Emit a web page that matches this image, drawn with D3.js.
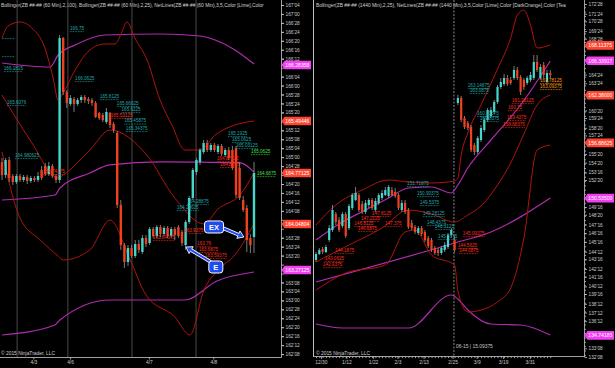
<!DOCTYPE html>
<html>
<head>
<meta charset="utf-8">
<script src="https://cdnjs.cloudflare.com/ajax/libs/d3/7.8.5/d3.min.js"></script>
<style>
  body { margin: 0; background: #000; }
  svg { display: block; font-family: "Liberation Sans", Arial, sans-serif; }
</style>
</head>
<body>
<svg id="chart" width="615" height="368"></svg>
<script>
"use strict";

// ---------- 60 min panel (left) ----------
// [open, high, low, close]
const leftBars = [
  [164.933,164.988,164.681,164.751],[164.751,164.988,164.709,164.960],[164.960,165.002,164.653,164.709],
  [164.737,164.765,164.611,164.653],[164.653,164.765,164.625,164.737],[164.737,164.765,164.653,164.681],
  [164.681,164.751,164.653,164.723],[164.723,164.751,164.625,164.667],[164.667,164.737,164.639,164.709],
  [164.709,164.737,164.653,164.681],[164.681,164.793,164.653,164.737],[164.821,164.877,164.681,164.709],
  [164.877,164.919,164.737,164.765],[164.765,164.933,164.737,164.877],[164.877,164.905,164.709,164.737],
  [164.737,164.765,164.639,164.681],[164.681,166.706,164.639,166.664],[166.664,166.678,165.868,165.910],
  [165.910,165.938,165.687,165.757],[165.743,165.868,165.715,165.826],[165.812,165.840,165.631,165.743],
  [165.743,165.826,165.715,165.798],[165.798,165.868,165.757,165.840],[165.840,165.868,165.757,165.798],
  [165.812,165.840,165.743,165.784],[165.798,165.826,165.715,165.757],[165.757,165.784,165.547,165.561],
  [165.617,165.631,165.519,165.547],[165.589,165.617,165.491,165.519],[165.491,165.687,165.463,165.631],
  [165.617,165.631,165.407,165.449],[165.463,165.491,165.338,165.379],[165.338,165.366,164.290,164.332],
  [164.332,164.402,163.704,163.773],[163.773,163.801,163.452,163.536],[163.536,163.773,163.480,163.731],
  [163.731,163.773,163.592,163.620],[163.620,163.843,163.592,163.787],[163.787,163.843,163.662,163.704],
  [163.676,163.913,163.648,163.871],[163.871,163.913,163.745,163.787],[163.801,164.025,163.773,163.997],
  [163.997,164.025,163.871,163.899],[163.899,164.053,163.871,164.025],[164.025,164.053,163.885,163.927],
  [163.927,164.039,163.899,164.011],[164.011,164.039,163.871,163.899],[163.899,164.025,163.871,163.997],
  [163.997,164.025,163.843,163.913],[164.025,164.053,163.871,163.899],[163.955,163.983,163.759,163.801],
  [163.773,164.122,163.704,164.095],[164.095,164.458,164.067,164.430],[164.430,164.849,164.402,164.821],
  [164.793,164.988,164.751,164.960],[164.933,165.128,164.891,165.100],[165.072,165.240,165.044,165.198],
  [165.198,165.240,165.072,165.100],[165.100,165.198,165.072,165.170],[165.170,165.198,165.072,165.100],
  [165.072,165.184,165.044,165.156],[165.156,165.184,165.016,165.044],[165.030,165.128,165.002,165.100],
  [165.100,165.142,164.960,164.988],[165.100,165.156,164.821,164.849],[165.128,165.156,164.430,164.472],
  [164.849,164.933,164.402,164.430],[164.402,164.458,164.234,164.262],[164.290,164.332,163.676,163.843],
  [163.871,163.927,163.662,163.773],[163.885,164.933,163.662,164.779]
];

// Bollinger (2,25) in red, Bollinger (2,100) in purple: [bar index, price]
const leftRedUpper = [[0,166.664],[1.7,166.832],[5,166.888],[8.3,166.804],[11.9,166.525],[14.2,166.106],[15.6,165.798],
  [17,165.896],[20.3,166.217],[24.4,166.497],[28.6,166.581],[31.4,166.581],[33.3,166.748],[34.7,166.888],[36.9,166.664],
  [40.3,166.357],[43.9,165.798],[47.2,165.449],[50.8,165.100],[55,165.100],[59.2,165.310],[64.7,165.449],[70,165.505]];
const leftRedMid = [[0,165.868],[7.8,165.240],[15.6,164.709],[17,164.751],[24.4,165.100],[30,165.379],[40,165.044],
  [48,164.430],[56.1,164.067],[60,164.276],[66.1,164.472],[70,164.779]];
const leftRedLower = [[0,165.072],[5,164.150],[10.6,163.843],[15.6,163.620],[17,163.564],[24.4,163.704],[30,164.122],
  [35.6,163.564],[40,163.075],[48,162.768],[52.2,162.516],[56.1,163.145],[60,163.424],[64.7,163.634],[70,164.067]];
const leftPurpleUpper = [[0,166.315],[13.3,166.259],[15.6,166.427],[20.3,166.567],[28.6,166.706],[43.9,166.720],
  [55,166.692],[59.2,166.636],[64.7,166.497],[70,166.301]];
const leftPurpleMid = [[0,164.402],[14.7,164.472],[16.1,164.569],[24.4,164.779],[30,164.891],[43.9,164.933],
  [66.1,164.919],[70,164.793]];
const leftPurpleLower = [[0,162.516],[14.7,162.656],[16.1,162.726],[30,163.005],[50.8,163.005],[59.7,163.271],[70,163.396]];

const leftSessions = [4.2, 18.3, 36.1, 53.9];
const leftDates = ["4/3", "4/6", "4/7", "4/8"];
const leftDatePos = [8.7, 18.9, 40.8, 58.7];
const leftTicks = ["162'08","162'12","162'16","162'20","162'24","162'28","163'00","163'04","163'08","163'12",
  "163'16","163'20","163'24","163'28","164'00","164'04","164'08","164'12","164'16","164'20","164'24","164'28",
  "165'00","165'04","165'08","165'12","165'16","165'20","165'24","165'28","166'00","166'04","166'08","166'12",
  "166'16","166'20","166'24","166'28","167'00","167'04"];
// [text, price, colour]
const leftMarkers = [["166.28358",166.287,"m"],["165.49446",165.505,"r"],["164.77125",164.779,"r"],
  ["164.04804",164.067,"r"],["163.27125",163.424,"m"]];
// NetLines labels: [text, price, bar index, colour]
const leftNotes = [
  ["",166.664,0,"t"],["",166.413,0,"t"],
  ["166.75",166.762,18.9,"t"],["166.1815",166.203,0.5,"t"],["166.0625",166.064,20.3,"t"],
  ["165.8125",165.812,27.2,"t"],["165.66625",165.715,31.9,"t"],["165.6225",165.631,33.2,"t"],
  ["165.53125",165.547,30.2,"r"],["165.45875",165.470,34.0,"t"],["165.34375",165.366,34.4,"t"],
  ["165.6076",165.729,1.4,"t"],["164.980625",164.988,3.6,"t"],["164.74375",164.765,11.4,"r"],
  ["164.29625",164.262,48.6,"t"],["164.28875",164.346,51.4,"t"],
  ["163.84375",163.843,41.9,"r"],["163.9375",163.941,50.6,"r"],["163.76",163.759,54.2,"r"],
  ["163.6875",163.676,54.7,"r"],["163.59375",163.592,56.4,"r"],
  ["164.87125",164.947,59.7,"r"],["164.8975",164.863,60.6,"r"],
  ["165.1925",165.296,62.8,"t"],["165.0625",165.212,63.9,"t"],["165.03125",165.128,65,"t"],
  ["165.0625",165.044,69.2,"g"],["164.6875",164.737,70.8,"g"]
];
// callouts: [text, box bar index, box price, arrow tip bar index, tip price]
const callouts = [["EX",58.9,164.025,67.2,163.885],["E",59.4,163.466,51.1,163.745]];

// ---------- daily panel (right) ----------
const rightBars = [
  [143.417,144.337,143.187,144.107],[144.107,144.798,143.992,144.567],[144.683,144.913,144.107,144.337],
  [144.337,145.143,144.222,144.913],[145.718,147.444,145.488,147.099],[146.869,149.746,146.639,149.170],
  [148.710,148.940,147.444,147.789],[148.020,148.365,146.639,146.869],[147.329,148.940,147.099,148.710],
  [148.710,148.940,145.948,146.178],[147.099,149.861,146.869,149.631],[149.400,151.126,149.170,150.896],
  [150.321,151.817,150.206,151.126],[150.896,151.126,148.940,149.170],[149.861,150.206,148.710,148.940],
  [148.940,150.321,148.710,149.976],[149.746,150.551,149.400,150.321],[150.321,150.551,149.170,149.400],
  [149.170,150.551,148.940,150.206],[149.976,151.126,149.746,150.896],[150.551,151.472,150.321,151.126],
  [150.896,151.817,150.781,151.472],[150.781,152.047,150.551,151.817],[151.472,151.817,150.781,150.896],
  [151.242,151.702,150.551,150.781],[150.896,151.126,149.170,149.400],[149.170,150.321,148.940,149.976],
  [149.976,150.321,148.710,148.940],[149.170,149.400,146.984,147.214],[147.674,148.020,146.869,147.099],
  [147.214,147.444,146.409,146.639],[146.524,147.329,146.294,147.099],[147.099,147.329,146.178,146.409],
  [146.639,146.869,145.488,145.718],[145.948,146.178,144.798,145.028],[145.718,145.948,144.337,144.567],
  [144.798,145.028,143.992,144.222],[144.567,144.798,143.877,144.222],[144.222,145.028,143.992,144.798],
  [144.567,145.488,144.337,145.143],[144.913,146.524,144.683,146.294],[146.294,147.099,146.063,146.869],
  [145.718,146.178,144.337,144.567],
  [161.483,162.403,161.253,162.058],[162.058,162.288,159.296,159.527],[159.757,159.987,158.491,158.721],
  [159.181,159.412,158.376,158.606],[158.721,158.951,155.844,156.074],[156.650,156.880,155.499,155.844],
  [155.844,157.685,155.614,157.455],[157.225,158.951,156.995,158.606],[158.376,159.757,158.146,159.527],
  [159.527,160.907,159.296,160.677],[159.987,161.023,159.757,160.677],[160.447,161.828,160.217,161.598],
  [161.598,163.554,161.368,163.324],[163.324,164.360,163.094,163.899],[163.669,164.820,163.439,164.360],
  [164.360,164.705,163.439,163.669],[164.129,164.475,163.554,163.784],[164.360,165.740,164.129,165.280],
  [165.280,165.625,164.129,164.360],[164.475,164.705,162.403,162.749],[164.129,164.360,162.979,163.324],
  [163.784,164.590,163.554,164.360],[164.129,165.050,163.899,164.705],[164.360,167.006,164.129,166.201],
  [166.201,167.006,165.050,165.280],[164.360,165.970,164.129,165.625],[165.855,166.201,164.360,164.705],
  [163.899,165.280,163.669,164.935],[164.935,165.280,164.360,164.705]
];
const rightPurpleUpper = [[0,145.718],[8,147.789],[15,149.170],[22,150.551],[28,151.702],[35,151.817],[41,151.126],
  [43,152.047],[46,154.003],[53,157.225],[62,161.253],[71,166.316]];
const rightPurpleMid = [[0,140.885],[42,145.373],[53,146.639],[71,150.551]];
const rightPurpleLower = [[0,136.052],[8,135.592],[28,135.592],[41,139.388],[43,138.929],[46,137.663],[53,136.052],
  [62,135.937],[71,134.787]];
const rightRedUpper = [[0,147.444],[6,149.746],[14,151.472],[22,152.622],[28,152.392],[35,152.277],[42,152.507],
  [43,152.852],[44,155.499],[46,158.031],[50,161.253],[55,165.395],[59,168.962],[61,171.609],[63,172.184],
  [65,170.458],[67,167.812],[71,168.157]];
const rightRedMid = [[0,143.187],[10,145.143],[20,147.099],[28,149.170],[35,148.710],[42,147.789],[46,148.595],
  [50,149.631],[55,152.047],[59,154.578],[63,157.916],[67,161.253],[71,162.403]];
const rightRedLower = [[0,139.965],[9,141.921],[21,142.841],[27,146.639],[30,146.869],[35,143.992],[42,142.841],
  [43,139.850],[46,137.433],[50,137.663],[55,138.584],[59,140.194],[63,145.948],[67,156.074],[71,156.650]];

const rightRoll = 41.8;
const rightDates = ["12/30","1/12","1/22","2/3","2/13","2/25","3/9","3/19","3/31"];
const rightDatePos = [1.5, 9.2, 17.3, 24.7, 32.6, 41.4, 48.7, 56.7, 64.8];
const rightTicks = ["172'28","171'24","170'28","169'24","168'28","167'24","166'24","165'24","164'24","163'24",
  "162'20","161'24","160'20","159'24","158'20","157'24","156'20","155'20","154'20","153'16","152'20",
  "149'16","148'20","147'16","146'16","145'16","144'12","143'16","142'12","141'16","140'12","139'16",
  "138'12","137'12","136'12","135'08","134'08","133'08","132'08"];
const rightMarkers = [["168.11375",168.11,"r"],["166.33917",166.34,"m"],["162.38000",162.38,"r"],
  ["156.88625",156.89,"r"],["150.53500",150.535,"m"],["134.74183",134.74,"m"]];
const rightNotes = [
  ["151.71875",151.932,27.6,"t"],["150.90375",150.781,30.6,"t"],["149.5375",149.746,31.5,"t"],
  ["149.28125",148.480,32.4,"t"],["148.4375",147.444,33.6,"t"],["148.3125",146.984,36.0,"t"],
  ["145.5375",145.833,37,"t"],
  ["147.8125",148.480,17,"r"],["147.2125",147.905,13.6,"r"],["146.8125",147.329,11.6,"r"],
  ["147.375",147.329,20.9,"r"],["146.6875",146.754,12.7,"r"],["144.1875",144.222,5.8,"r"],
  ["143.0625",143.302,2.7,"r"],["142.9375",142.611,2.1,"r"],
  ["145.09375",146.178,44.5,"r"],["144.5625",144.798,43,"r"],["144.0875",144.222,43.4,"r"],
  ["163.14875",163.209,46,"t"],["163.0875",162.634,46.6,"t"],["160.90375",159.987,48.8,"t"],
  ["160.8375",159.412,49.7,"t"],
  ["161.28125",161.483,59.4,"r"],["160.75",160.677,58.2,"r"],["159.4375",159.527,57.9,"r"],
  ["158.68375",158.721,56.7,"r"],
  ["163.78125",163.784,67.9,"o"],["163.09375",163.094,67.9,"o"]
];

// ---------- drawing ----------
const COL = { t: "#20a8a8", r: "#ff2b1c", g: "#3ee03e", o: "#ff9a10", m: "#f040f0" };
const UP = "#45d6cc", DOWN = "#f2401f", RED_BAND = "#b0140f", PURPLE = "#b02cb0";
const AXIS = "#c8c8c8";

const svg = d3.select("#chart");
svg.append("rect").attr("width", 615).attr("height", 368).attr("fill", "#000");

const xL = d3.scaleLinear().domain([0, 70]).range([2, 254]);
const yL = d3.scaleLinear().domain([162.209, 167.195]).range([357, 0]);
const xR = d3.scaleLinear().domain([0, 71]).range([316, 550.3]);
const yR = d3.scaleLinear().domain([132.255, 173.335]).range([357, 0]);

function parse32(s) {
  const [a, b] = s.split("'");
  return +a + +b / 32;
}
function fmt32(v) {
  const whole = Math.floor(v + 1e-9);
  const n = Math.round((v - whole) * 32);
  return whole + "'" + String(n).padStart(2, "0");
}

const defs = svg.append("defs");
defs.append("clipPath").attr("id", "clipL").append("rect")
  .attr("x", 0).attr("y", 0).attr("width", 281).attr("height", 357);
defs.append("clipPath").attr("id", "clipR").append("rect")
  .attr("x", 314).attr("y", 0).attr("width", 270).attr("height", 356);

function panel(opt) {
  const g = svg.append("g").attr("clip-path", `url(#${opt.clip})`);
  const { x, y } = opt;

  // header (cut where the price axis starts, as on screen)
  g.append("text").attr("x", opt.headX).attr("y", 7).attr("fill", "#d0d0d0")
    .attr("font-size", 4.9).text(opt.header);

  // separators
  opt.separators.forEach(s => {
    g.append("line").attr("x1", x(s)).attr("x2", x(s)).attr("y1", 0).attr("y2", 357)
      .attr("stroke", s === rightRoll ? "#8a8a8a" : "#4a4a4a").attr("stroke-width", 1)
      .attr("stroke-dasharray", s === rightRoll ? "2,1.5" : null);
  });

  const line = d3.line().x(d => x(d[0])).y(d => y(d[1])).curve(d3.curveMonotoneX);
  opt.purple.forEach(b => g.append("path").attr("d", line(b)).attr("fill", "none")
    .attr("stroke", PURPLE).attr("stroke-width", 1.2));
  opt.red.forEach(b => g.append("path").attr("d", line(b)).attr("fill", "none")
    .attr("stroke", RED_BAND).attr("stroke-width", 1));

  // candles
  const bars = opt.bars.map((b, i) => ({ i, o: b[0], h: b[1], l: b[2], c: b[3] }));
  const cg = g.append("g");
  cg.selectAll("line.wick").data(bars).join("line").attr("class", "wick")
    .attr("x1", d => x(d.i)).attr("x2", d => x(d.i))
    .attr("y1", d => y(d.h)).attr("y2", d => y(d.l))
    .attr("stroke", "#9c9c9c").attr("stroke-width", 0.8);
  cg.selectAll("rect.body").data(bars).join("rect").attr("class", "body")
    .attr("x", d => x(d.i) - opt.bw / 2).attr("width", opt.bw)
    .attr("y", d => y(Math.max(d.o, d.c)))
    .attr("height", d => Math.max(0.8, Math.abs(y(d.o) - y(d.c))))
    .attr("fill", d => (d.c >= d.o ? UP : DOWN));

  // NetLines labels
  opt.notes.forEach(([t, p, i, c]) => {
    const px = x(i), py = y(p);
    let w = 13;
    if (t) {
      const tx = g.append("text").attr("x", px).attr("y", py - 1.2).attr("fill", COL[c])
        .attr("font-size", 4.6).text(t);
      w = tx.node().getComputedTextLength();
    }
    g.append("line").attr("x1", px).attr("x2", px + w).attr("y1", py + 0.6).attr("y2", py + 0.6)
      .attr("stroke", COL[c]).attr("stroke-width", 0.8).attr("stroke-dasharray", "0.8,0.8");
  });

  // copyright
  g.append("text").attr("x", opt.headX).attr("y", 354.5).attr("fill", "#d0d0d0")
    .attr("font-size", 4.9).text("\u00a9 2015 NinjaTrader, LLC");
  return g;
}

const gl = panel({
  clip: "clipL", x: xL, y: yL, bars: leftBars, bw: 2.4, headX: 1,
  header: "Bollinger(ZB ##-## (60 Min),2,100), Bollinger(ZB ##-## (60 Min),2,25), NetLines(ZB ##-## (60 Min),3,5,Color [Lime],Color",
  separators: leftSessions,
  purple: [leftPurpleUpper, leftPurpleMid, leftPurpleLower],
  red: [leftRedUpper, leftRedMid, leftRedLower],
  notes: leftNotes
});
const gr = panel({
  clip: "clipR", x: xR, y: yR, bars: rightBars, bw: 2.2, headX: 316,
  header: "Bollinger(ZB ##-## (1440 Min),2,25), NetLines(ZB ##-## (1440 Min),3,5,Color [Lime],Color [DarkOrange],Color [Tea",
  separators: [rightRoll],
  purple: [rightPurpleUpper, rightPurpleMid, rightPurpleLower],
  red: [rightRedUpper, rightRedMid, rightRedLower],
  notes: rightNotes
});
gr.append("text").attr("x", xR(rightRoll) + 2).attr("y", 347.5).attr("fill", "#c8c8c8")
  .attr("font-size", 4.9).text("06-15 | 15.09375");

// EX / E callouts
function arrow(g, x1, y1, x2, y2) {
  const a = Math.atan2(y2 - y1, x2 - x1), L = 6, W = 4;
  const bx = x2 - L * Math.cos(a), by = y2 - L * Math.sin(a);
  const head = [[x2, y2], [bx + W * Math.sin(a), by - W * Math.cos(a)], [bx - W * Math.sin(a), by + W * Math.cos(a)]];
  g.append("line").attr("x1", x1).attr("y1", y1).attr("x2", bx).attr("y2", by)
    .attr("stroke", "#fff").attr("stroke-width", 3.6);
  g.append("polygon").attr("points", head.join(" ")).attr("fill", "#1f4cf0")
    .attr("stroke", "#fff").attr("stroke-width", 0.9);
  g.append("line").attr("x1", x1).attr("y1", y1).attr("x2", bx + 0.5 * Math.cos(a)).attr("y2", by + 0.5 * Math.sin(a))
    .attr("stroke", "#1f4cf0").attr("stroke-width", 2);
}
callouts.forEach(([t, bi, bp, ti, tp]) => {
  const cx = xL(bi), cy = yL(bp), w = t.length > 1 ? 19 : 14, h = 12;
  const sx = ti > bi ? cx + w / 2 - 1 : cx - w / 2 + 2, sy = ti > bi ? cy + 1 : cy - h / 2 + 1;
  arrow(gl, sx, sy, xL(ti), yL(tp));
  gl.append("rect").attr("x", cx - w / 2).attr("y", cy - h / 2).attr("width", w).attr("height", h)
    .attr("rx", 3).attr("fill", "#1f4cf0").attr("stroke", "#fff").attr("stroke-width", 1);
  gl.append("text").attr("x", cx).attr("y", cy + 2.7).attr("text-anchor", "middle").attr("fill", "#fff")
    .attr("font-size", 7.5).attr("font-weight", "bold").text(t);
});

// ---------- axes ----------
function styleAxis(sel, fs) {
  sel.select(".domain").remove();
  sel.selectAll("line").attr("stroke", AXIS).attr("stroke-width", 0.8);
  sel.selectAll("text").attr("fill", AXIS).attr("font-size", fs)
    .attr("font-family", "\"Liberation Sans\", Arial, sans-serif");
}
// a tick label sitting under a price marker is covered on screen: leave it out
function freeTicks(ticks, markers, y) {
  return ticks.map(parse32).filter(v => markers.every(m => Math.abs(y(v) - y(m[1])) > 6));
}
// left price axis
svg.append("line").attr("x1", 281.5).attr("x2", 281.5).attr("y1", 0).attr("y2", 357.5).attr("stroke", AXIS).attr("stroke-width", 0.8);
svg.append("g").attr("transform", "translate(281.5,0)")
  .call(d3.axisRight(yL).tickValues(leftTicks.map(parse32)).tickFormat("").tickSize(2.5))
  .call(s => styleAxis(s, 4.8));
svg.append("g").attr("transform", "translate(281.5,0)")
  .call(d3.axisRight(yL).tickValues(freeTicks(leftTicks, leftMarkers, yL)).tickFormat(fmt32).tickSize(2.5).tickPadding(1.5))
  .call(s => styleAxis(s, 4.8));
// right price axis
svg.append("line").attr("x1", 584.5).attr("x2", 584.5).attr("y1", 0).attr("y2", 357).attr("stroke", AXIS).attr("stroke-width", 0.8);
svg.append("g").attr("transform", "translate(584.5,0)")
  .call(d3.axisRight(yR).tickValues(d3.range(132.5, 173, 0.5)).tickFormat("").tickSize(1.5))
  .call(s => styleAxis(s, 4.8));
svg.append("g").attr("transform", "translate(584.5,0)")
  .call(d3.axisRight(yR).tickValues(freeTicks(rightTicks, rightMarkers, yR)).tickFormat(fmt32).tickSize(2.5).tickPadding(1.5))
  .call(s => styleAxis(s, 4.8));

// bottom time axes
svg.append("line").attr("x1", 0).attr("x2", 281.5).attr("y1", 357.5).attr("y2", 357.5).attr("stroke", AXIS).attr("stroke-width", 0.8);
svg.append("g").attr("transform", "translate(0,357.5)")
  .call(d3.axisBottom(xL).tickValues(leftDatePos).tickFormat((d, i) => leftDates[i]).tickSize(2).tickPadding(1))
  .call(s => styleAxis(s, 4.9));
svg.append("line").attr("x1", 313.5).attr("x2", 584.5).attr("y1", 356.5).attr("y2", 356.5).attr("stroke", AXIS).attr("stroke-width", 0.8);
svg.append("g").attr("transform", "translate(0,356.5)")
  .call(d3.axisBottom(xR).tickValues(d3.range(rightBars.length)).tickFormat("").tickSize(1.6))
  .call(s => styleAxis(s, 4.9));
svg.append("g").attr("transform", "translate(0,356.5)")
  .call(d3.axisBottom(xR).tickValues(rightDatePos).tickFormat((d, i) => rightDates[i]).tickSize(2.4).tickPadding(1.5))
  .call(s => styleAxis(s, 4.9));

// panel border of the daily chart
svg.append("line").attr("x1", 313.5).attr("x2", 313.5).attr("y1", 0).attr("y2", 357).attr("stroke", "#bdbdbd").attr("stroke-width", 1);

// price markers on the axes
function markers(list, y, x0) {
  list.forEach(([t, p, c]) => {
    const py = y(p);
    svg.append("path")
      .attr("d", `M${x0},${py} L${x0 + 3},${py - 4.3} L${x0 + 29.5},${py - 4.3} L${x0 + 29.5},${py + 4.3} L${x0 + 3},${py + 4.3} Z`)
      .attr("fill", c === "m" ? "#f23ff2" : "#ff4530");
    svg.append("text").attr("x", x0 + 3.8).attr("y", py + 1.8).attr("fill", "#fff")
      .attr("font-size", 5.1).text(t);
  });
}
markers(leftMarkers, yL, 281.5);
markers(rightMarkers, yR, 584.5);
</script>
</body>
</html>
